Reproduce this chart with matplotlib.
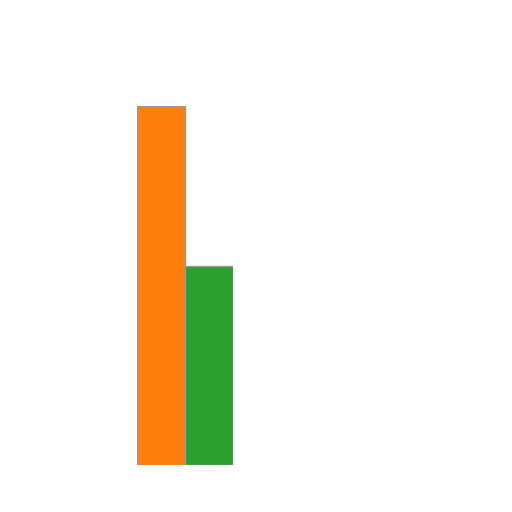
import matplotlib
matplotlib.use("Agg")
import matplotlib.pyplot as plt

# valeurs
categories = ["A", "B"]
values = [9.0, 5.0]
colors = ["#ff7f0e", "#2ca02c"]

fig = plt.figure(figsize=(5.12, 5.12), dpi=100)
# axes placé pour que les barres tombent au bon endroit
ax = fig.add_axes([137 / 512, 47 / 512, 96 / 512, 359 / 512])

ax.bar(range(len(categories)), values, width=1.0, align="edge",
       color=colors, edgecolor="#999999", linewidth=1.0)

ax.set_xlim(0, len(categories))
ax.set_ylim(0, max(values))
ax.axis("off")

fig.savefig("out.png", dpi=100)
